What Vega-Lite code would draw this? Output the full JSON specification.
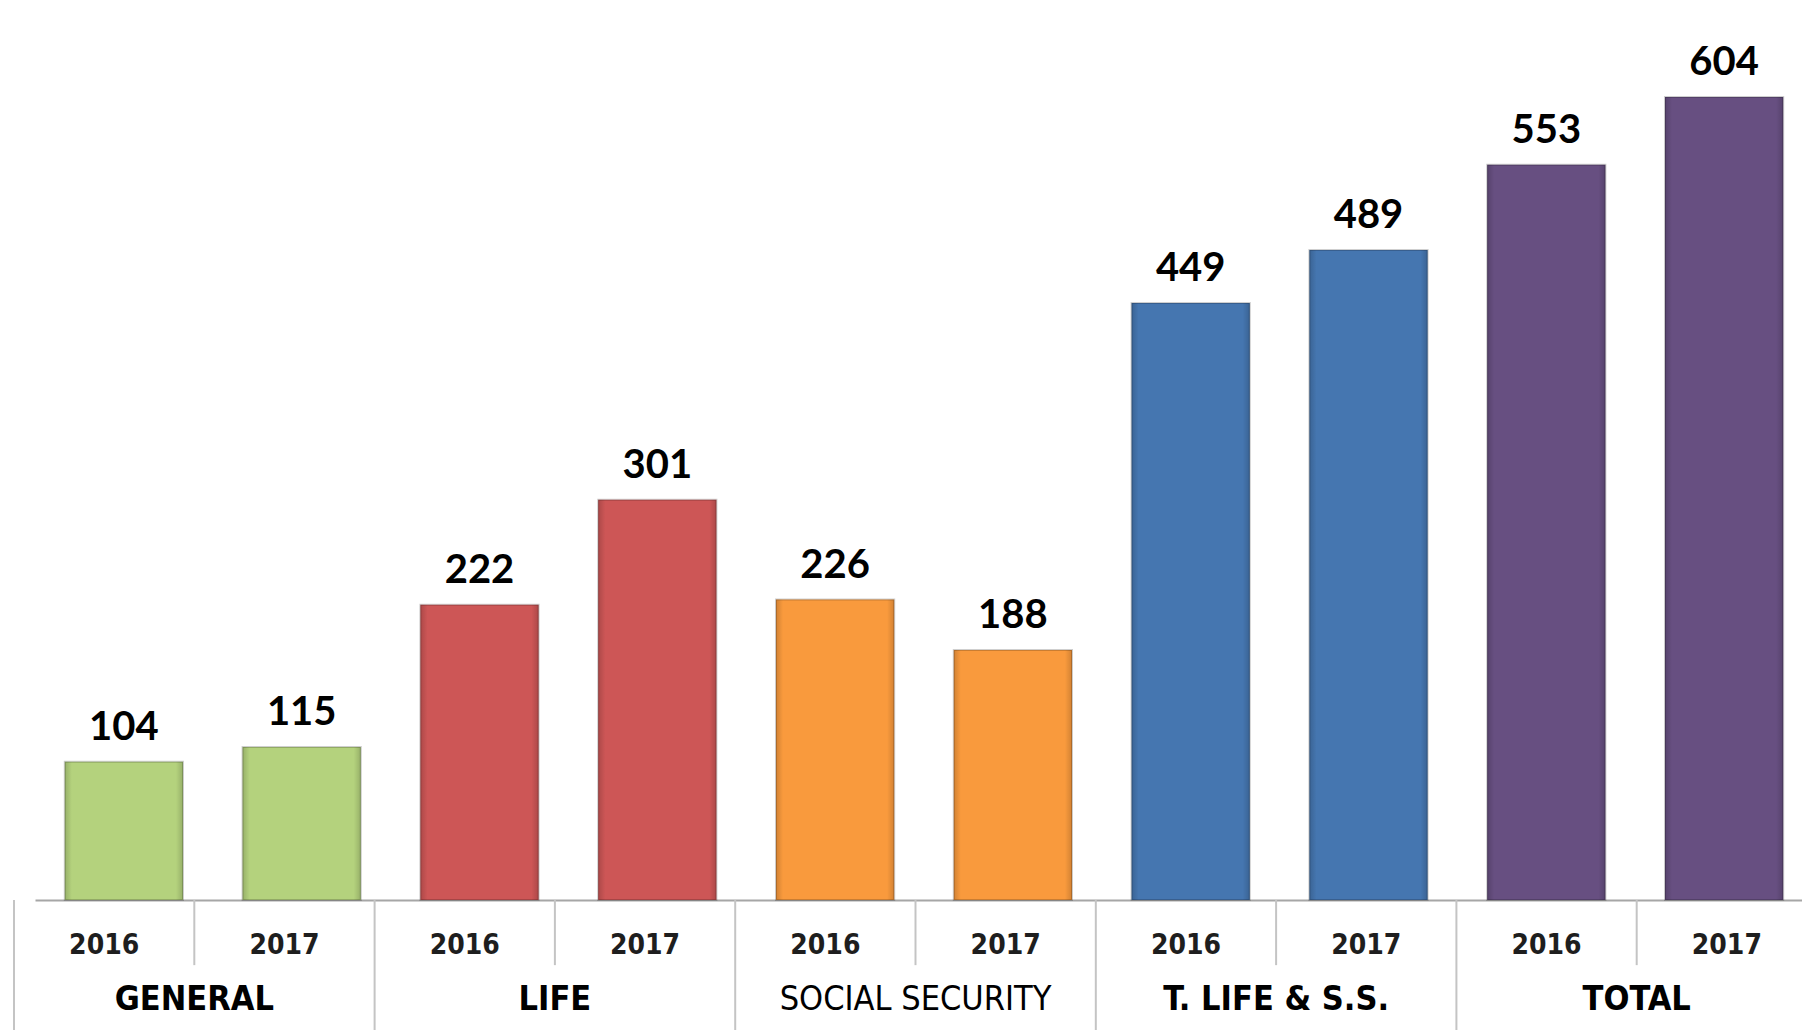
{
  "$schema": "https://vega.github.io/schema/vega-lite/v6.json",
  "width": 1788,
  "height": 900,
  "autosize": "none",
  "padding": {"left": 14, "top": 0, "right": 0, "bottom": 130},
  "background": "white",
  "config": {"view": {"stroke": null}},
  "data": {
    "values": [
      {"key": "GENERAL 2016", "group": "GENERAL", "year": "2016", "value": 104},
      {"key": "GENERAL 2017", "group": "GENERAL", "year": "2017", "value": 115},
      {"key": "LIFE 2016", "group": "LIFE", "year": "2016", "value": 222},
      {"key": "LIFE 2017", "group": "LIFE", "year": "2017", "value": 301},
      {"key": "SOCIAL SECURITY 2016", "group": "SOCIAL SECURITY", "year": "2016", "value": 226},
      {"key": "SOCIAL SECURITY 2017", "group": "SOCIAL SECURITY", "year": "2017", "value": 188},
      {"key": "T. LIFE & S.S. 2016", "group": "T. LIFE & S.S.", "year": "2016", "value": 449},
      {"key": "T. LIFE & S.S. 2017", "group": "T. LIFE & S.S.", "year": "2017", "value": 489},
      {"key": "TOTAL 2016", "group": "TOTAL", "year": "2016", "value": 553},
      {"key": "TOTAL 2017", "group": "TOTAL", "year": "2017", "value": 604}
    ]
  },
  "encoding": {
    "y": {
      "field": "value",
      "type": "quantitative",
      "scale": {"domain": [0, 677], "nice": false, "zero": true},
      "axis": null
    }
  },
  "resolve": {"scale": {"x": "independent"}, "axis": {"x": "independent"}},
  "layer": [
    {
      "encoding": {
        "x": {
          "field": "key",
          "type": "nominal",
          "sort": null,
          "scale": {
            "domain": ["GENERAL 2016", "GENERAL 2017", "LIFE 2016", "LIFE 2017", "SOCIAL SECURITY 2016", "SOCIAL SECURITY 2017", "T. LIFE & S.S. 2016", "T. LIFE & S.S. 2017", "TOTAL 2016", "TOTAL 2017"],
            "paddingInner": 0, "paddingOuter": 0, "range": [21, 1799]
          },
          "axis": {"title": null, "labels": false, "ticks": false, "domain": true, "domainColor": "#a6a6a6", "domainWidth": 2, "grid": false}
        }
      },
      "layer": [
        {
          "mark": {"type": "bar", "width": {"band": 0.665}, "stroke": "#00000030", "strokeWidth": 2},
          "encoding": {
            "color": {
              "field": "group",
              "type": "nominal",
              "scale": {
                "domain": ["GENERAL", "LIFE", "SOCIAL SECURITY", "T. LIFE & S.S.", "TOTAL"],
                "range": ["#b4d27d", "#cd5656", "#f99a3d", "#4576b0", "#674f81"]
              },
              "legend": null
            }
          }
        },
        {
          "mark": {
            "type": "bar",
            "width": {"band": 0.665},
            "fill": {
              "gradient": "linear",
              "x1": 0, "x2": 1, "y1": 0, "y2": 0,
              "stops": [
                {"offset": 0, "color": "rgba(0,0,0,0.16)"},
                {"offset": 0.06, "color": "rgba(0,0,0,0)"},
                {"offset": 0.94, "color": "rgba(0,0,0,0)"},
                {"offset": 1, "color": "rgba(0,0,0,0.16)"}
              ]
            },
            "fillOpacity": 1
          }
        },
        {
          "mark": {"type": "text", "dy": -22, "baseline": "alphabetic", "font": "Lato", "fontWeight": "bold", "fontSize": 40, "color": "#000000"},
          "encoding": {"text": {"field": "value", "type": "quantitative"}}
        }
      ]
    },
    {
      "encoding": {
        "x": {
          "field": "key",
          "type": "nominal",
          "sort": null,
          "scale": {
            "domain": ["GENERAL 2016", "GENERAL 2017", "LIFE 2016", "LIFE 2017", "SOCIAL SECURITY 2016", "SOCIAL SECURITY 2017", "T. LIFE & S.S. 2016", "T. LIFE & S.S. 2017", "TOTAL 2016", "TOTAL 2017"],
            "paddingInner": 0, "paddingOuter": 0, "range": [0, 1803]
          },
          "axis": null
        }
      },
      "layer": [
        {
          "transform": [{"filter": "datum.year == '2017'"}],
          "mark": {"type": "rule", "color": "#c4c4c4", "strokeWidth": 2},
          "encoding": {
            "x": {"field": "key", "type": "nominal", "sort": null, "bandPosition": 0},
            "y": {"datum": 0},
            "y2": {"datum": -49}
          }
        },
        {
          "transform": [{"filter": "datum.year == '2016'"}],
          "mark": {"type": "rule", "color": "#c4c4c4", "strokeWidth": 2},
          "encoding": {
            "x": {"field": "key", "type": "nominal", "sort": null, "bandPosition": 0},
            "y": {"datum": 0},
            "y2": {"datum": -98}
          }
        },
        {
          "mark": {"type": "text", "baseline": "middle", "font": "DejaVu Sans Condensed, Roboto, sans-serif", "fontWeight": "bold", "fontSize": 28, "color": "#1e1e1e"},
          "encoding": {
            "y": {"datum": -34.6},
            "text": {"field": "year", "type": "nominal"}
          }
        },
        {
          "transform": [{"filter": "datum.year == '2016' && datum.group != 'SOCIAL SECURITY'"}],
          "mark": {"type": "text", "baseline": "middle", "font": "DejaVu Sans Condensed, Roboto, sans-serif", "fontWeight": "bold", "fontSize": 34, "color": "#000000"},
          "encoding": {
            "x": {"field": "key", "type": "nominal", "sort": null, "bandPosition": 1},
            "y": {"datum": -75.5},
            "text": {"field": "group", "type": "nominal"}
          }
        },
        {
          "transform": [{"filter": "datum.year == '2016' && datum.group == 'SOCIAL SECURITY'"}],
          "mark": {"type": "text", "baseline": "middle", "font": "DejaVu Sans Condensed, Roboto, sans-serif", "fontWeight": "normal", "fontSize": 34, "color": "#000000"},
          "encoding": {
            "x": {"field": "key", "type": "nominal", "sort": null, "bandPosition": 1},
            "y": {"datum": -75.5},
            "text": {"field": "group", "type": "nominal"}
          }
        }
      ]
    }
  ]
}
